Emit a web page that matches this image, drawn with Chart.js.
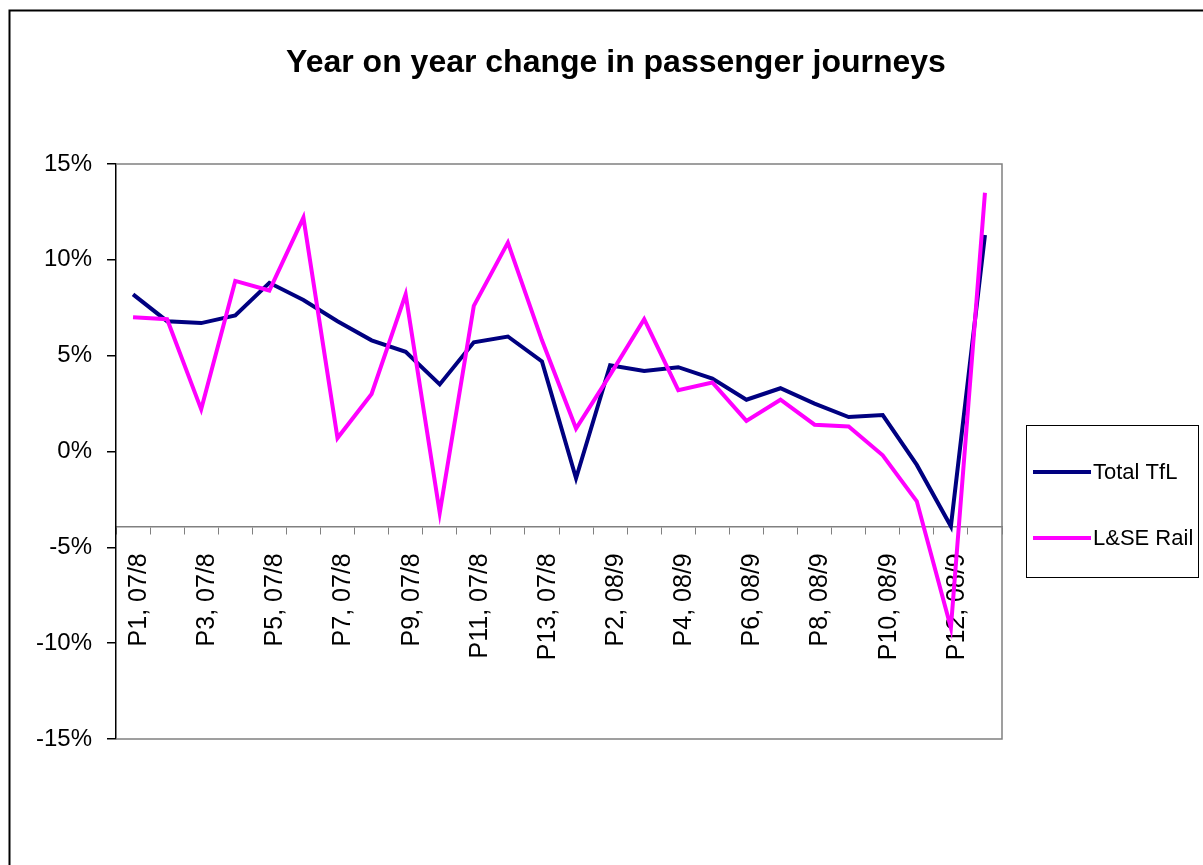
<!DOCTYPE html>
<html>
<head>
<meta charset="utf-8">
<title>Year on year change in passenger journeys</title>
<script src="https://cdn.jsdelivr.net/npm/chart.js@4/dist/chart.umd.min.js"></script>
<style>
	html, body { margin: 0; padding: 0; background: #fff; }
	#chart { display: block; }
</style>
</head>
<body>
<canvas id="chart" width="1203" height="865"></canvas>
<script>
// Period labels, two financial years of 13 periods each
var categories = [
	'P1, 07/8', 'P2, 07/8', 'P3, 07/8', 'P4, 07/8', 'P5, 07/8', 'P6, 07/8', 'P7, 07/8',
	'P8, 07/8', 'P9, 07/8', 'P10, 07/8', 'P11, 07/8', 'P12, 07/8', 'P13, 07/8',
	'P1, 08/9', 'P2, 08/9', 'P3, 08/9', 'P4, 08/9', 'P5, 08/9', 'P6, 08/9', 'P7, 08/9',
	'P8, 08/9', 'P9, 08/9', 'P10, 08/9', 'P11, 08/9', 'P12, 08/9', 'P13, 08/9'
];

// Year on year change, in percent
var totalTfl = [8.2, 6.8, 6.7, 7.1, 8.8, 7.9, 6.8, 5.8, 5.2, 3.5, 5.7, 6.0, 4.7,
	-1.4, 4.5, 4.2, 4.4, 3.8, 2.7, 3.3, 2.5, 1.8, 1.9, -0.7, -3.9, 11.3];
var lseRail = [7.0, 6.9, 2.2, 8.9, 8.4, 12.2, 0.7, 3.0, 8.2, -3.2, 7.6, 10.9, 5.8,
	1.2, 4.0, 6.9, 3.2, 3.6, 1.6, 2.7, 1.4, 1.3, -0.2, -2.6, -9.2, 13.5];

var seriesNames = ['Total TfL', 'L&SE Rail'];
var yTicks = [-15, -10, -5, 0, 5, 10, 15];
var xAxisCrossing = -3.9;

var FONT = '"Liberation Sans", Arial, sans-serif';

/**
 * Excel style extras: outer frame, plot frame, title and boxed legend
 */
var excelFrame = {
	id: 'excelFrame',
	beforeDraw: function(chart) {
		var ctx = chart.ctx;
		ctx.save();
		ctx.fillStyle = '#fff';
		ctx.fillRect(0, 0, chart.width, chart.height);
		ctx.strokeStyle = '#000';
		ctx.lineWidth = 2;
		ctx.strokeRect(9.5, 10.5, chart.width + 20, chart.height + 20);
		ctx.restore();
	},
	beforeDatasetsDraw: function(chart) {
		var a = chart.chartArea;
		var ctx = chart.ctx;
		ctx.save();
		ctx.strokeStyle = '#808080';
		ctx.lineWidth = 1.5;
		ctx.beginPath();
		ctx.moveTo(a.left, a.top);
		ctx.lineTo(a.right, a.top);
		ctx.lineTo(a.right, a.bottom);
		ctx.lineTo(a.left, a.bottom);
		ctx.stroke();
		ctx.restore();
	},
	afterDraw: function(chart) {
		var ctx = chart.ctx;
		ctx.save();

		// Title
		ctx.fillStyle = '#000';
		ctx.font = 'bold 32px ' + FONT;
		ctx.textAlign = 'center';
		ctx.textBaseline = 'alphabetic';
		ctx.fillText('Year on year change in passenger journeys', 616, 72);

		// Legend box
		ctx.strokeStyle = '#000';
		ctx.lineWidth = 1;
		ctx.strokeRect(1026.5, 425.5, 172, 152);

		var rows = [472, 538];
		ctx.font = '22px ' + FONT;
		ctx.textAlign = 'left';
		ctx.textBaseline = 'middle';
		chart.data.datasets.forEach(function(ds, i) {
			ctx.strokeStyle = ds.borderColor;
			ctx.lineWidth = 4;
			ctx.beginPath();
			ctx.moveTo(1033, rows[i]);
			ctx.lineTo(1091, rows[i]);
			ctx.stroke();
			ctx.fillStyle = '#000';
			ctx.fillText(ds.label, 1093, rows[i] + 1);
		});

		ctx.restore();
	}
};

var chart = new Chart(document.getElementById('chart'), {
	type: 'line',
	data: {
		labels: categories,
		datasets: [{
			label: seriesNames[0],
			data: totalTfl,
			borderColor: '#000080',
			borderWidth: 4,
			pointRadius: 0,
			tension: 0,
			order: 1
		}, {
			label: seriesNames[1],
			data: lseRail,
			borderColor: '#ff00ff',
			borderWidth: 4,
			pointRadius: 0,
			tension: 0,
			order: 0
		}]
	},
	options: {
		responsive: false,
		animation: false,
		layout: {
			padding: { top: 164, right: 201, bottom: 126, left: 0 }
		},
		plugins: {
			legend: { display: false },
			title: { display: false },
			tooltip: { enabled: false }
		},
		scales: {
			x: {
				type: 'category',
				offset: true,
				position: { y: xAxisCrossing },
				grid: {
					offset: true,
					drawOnChartArea: false,
					drawTicks: true,
					tickLength: 7,
					color: '#808080',
					lineWidth: 1
				},
				border: { display: true, color: '#808080', width: 1.5 },
				ticks: {
					autoSkip: false,
					minRotation: 90,
					maxRotation: 90,
					padding: 20,
					labelOffset: 6,
					color: '#000',
					font: { family: FONT, size: 25 },
					callback: function(value, index) {
						return index % 2 === 0 ? categories[index] : '';
					}
				}
			},
			y: {
				min: yTicks[0],
				max: yTicks[yTicks.length - 1],
				afterBuildTicks: function(scale) {
					scale.ticks = yTicks.map(function(v) { return { value: v }; });
				},
				afterFit: function(scale) {
					scale.width = 116;
				},
				grid: {
					drawOnChartArea: false,
					drawTicks: true,
					tickLength: 9,
					color: '#000',
					lineWidth: 1.5
				},
				border: { display: true, color: '#000', width: 1.5 },
				ticks: {
					padding: 15,
					color: '#000',
					font: { family: FONT, size: 24 },
					callback: function(value) {
						return value + '%';
					}
				}
			}
		}
	},
	plugins: [excelFrame]
});
</script>
</body>
</html>
